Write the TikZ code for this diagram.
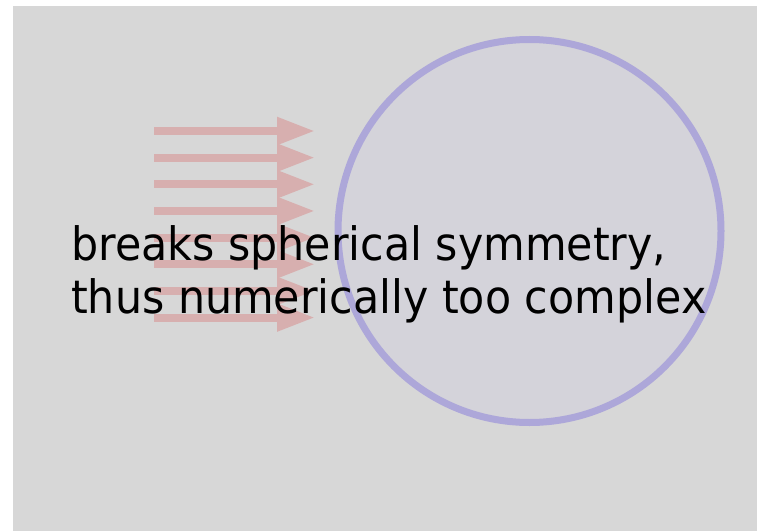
\documentclass[tikz,border=0pt]{standalone}
\usepackage{fontspec}
\setmainfont[FakeStretch=0.93]{DejaVu Sans}
\usetikzlibrary{arrows.meta}
\definecolor{bggray}{HTML}{D7D7D7}
\definecolor{ballfill}{HTML}{D4D3DA}
\definecolor{balledge}{HTML}{ADA7D9}
\definecolor{flowred}{HTML}{D7AFAF}
\tikzset{
  flow/.style={draw=flowred, line width=8pt, -{Triangle[length=38pt,width=26pt]}},
  ball/.style={circle, draw=balledge, fill=ballfill, line width=7pt, minimum size=383pt, inner sep=0pt},
  caption/.style={inner sep=0pt, align=left, font=\fontsize{46}{53}\selectfont}
}
\begin{document}
\begin{tikzpicture}[x=1pt,y=1pt]
\useasboundingbox (0,0) rectangle (757,531);
\fill[bggray] (13,0) rectangle (757,525);
\node[ball] (sphere) at (529.5,300) {};
\foreach \i in {0,...,7} {
  \coordinate (s\i) at (154,{400-26.65*\i});
  \coordinate (e\i) at (315,{400-26.65*\i});
  \draw[flow] (s\i) -- (e\i);
}
\node[caption, anchor=north west] (label) at (71,306) {breaks spherical symmetry,\\thus numerically too complex};
\end{tikzpicture}
\end{document}
